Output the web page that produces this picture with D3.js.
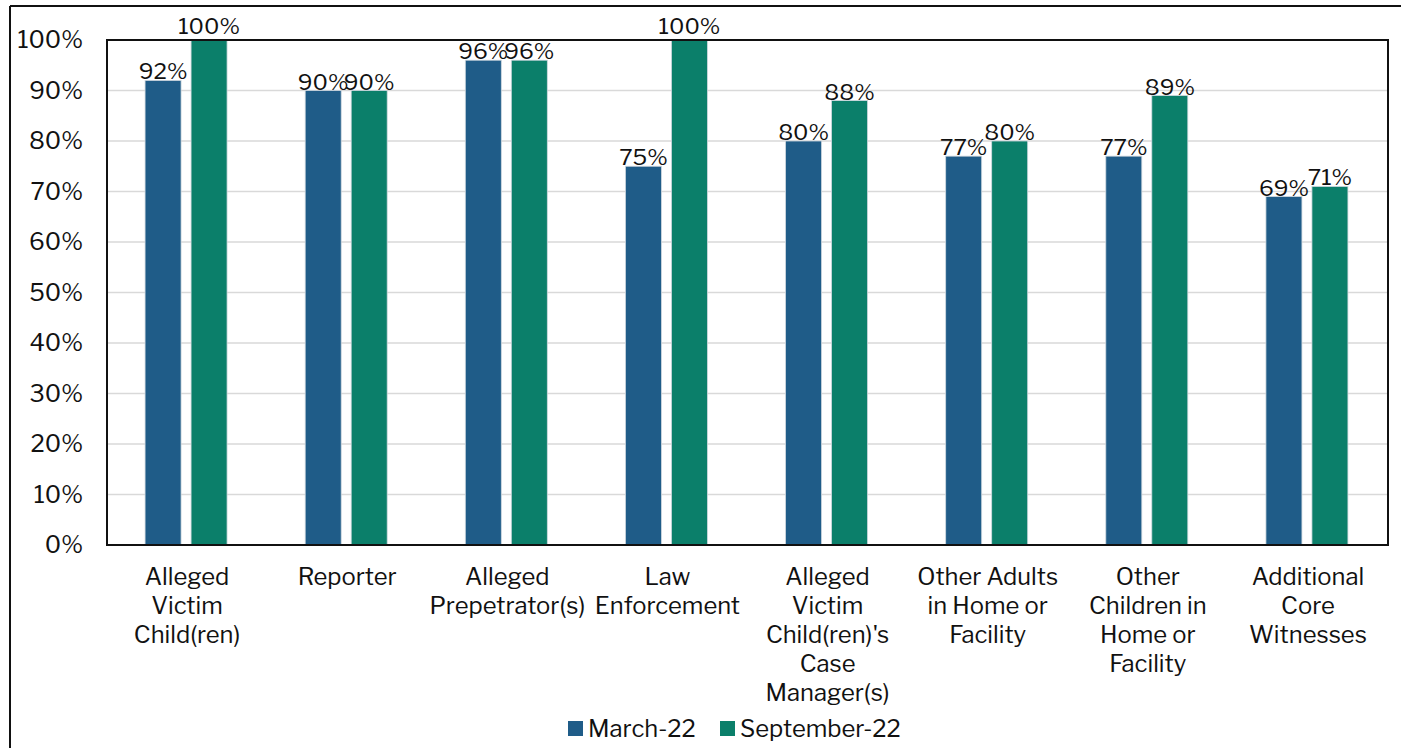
<!DOCTYPE html>
<html><head><meta charset="utf-8">
<script src="https://cdn.jsdelivr.net/npm/d3@7"></script>
<style>body{margin:0;background:#fff}svg{display:block}</style>
</head><body>
<script>
const categories = [
  ["Alleged","Victim","Child(ren)"],
  ["Reporter"],
  ["Alleged","Prepetrator(s)"],
  ["Law","Enforcement"],
  ["Alleged","Victim","Child(ren)'s","Case","Manager(s)"],
  ["Other Adults","in Home or","Facility"],
  ["Other","Children in","Home or","Facility"],
  ["Additional","Core","Witnesses"]
];
const seriesNames = ["March-22", "September-22"];
const march22 = [92, 90, 96, 75, 80, 77, 77, 69];
const september22 = [100, 90, 96, 100, 88, 80, 89, 71];
const yTicks = [0,10,20,30,40,50,60,70,80,90,100];
const colors = ["#1F5C88", "#0B7F6A"];

const W = 1401, H = 748;
const font = "'Libre Franklin','Open Sans',Roboto,sans-serif";
const FS = 23.8;
const svg = d3.select("body").append("svg").attr("width", W).attr("height", H);

// outer frame
svg.append("line").attr("x1",10).attr("x2",W).attr("y1",6).attr("y2",6).attr("stroke","#111").attr("stroke-width",2);
svg.append("line").attr("x1",10).attr("x2",10).attr("y1",6).attr("y2",H).attr("stroke","#111").attr("stroke-width",2);

const L = 107, R = 1388, T = 40, B = 545;
const x0 = d3.scaleBand().domain(d3.range(categories.length)).range([L, R]).paddingInner(0).paddingOuter(0);
const y = d3.scaleLinear().domain([0, 100]).range([B, T]);

// gridlines
svg.append("g").selectAll("line").data(yTicks.filter(t => t > 0)).join("line")
  .attr("x1", L).attr("x2", R).attr("y1", d => y(d)).attr("y2", d => y(d))
  .attr("stroke", "#d9d9d9").attr("stroke-width", 1.5);

// y axis labels
const yAxis = d3.axisLeft(y).tickValues(yTicks).tickFormat(d => d + "%").tickSize(0).tickPadding(24);
const ga = svg.append("g").attr("transform", `translate(${L},0)`).call(yAxis);
ga.select(".domain").remove();
ga.selectAll("text").attr("font-family", font).attr("font-size", FS).attr("fill", "#111");

const barW = 36, gap = 10;
const series = [march22, series2 = september22];
series.forEach((vals, si) => {
  const off = si === 0 ? -(gap/2 + barW) - 1 : gap/2 - 1;
  const g = svg.append("g");
  g.selectAll("rect").data(vals).join("rect")
    .attr("x", (d, i) => x0(i) + x0.bandwidth()/2 + off)
    .attr("width", barW)
    .attr("y", d => y(d))
    .attr("height", d => B - y(d))
    .attr("fill", colors[si])
    .attr("stroke", "#cfd8df").attr("stroke-width", 0.8);
  g.selectAll("text").data(vals).join("text")
    .attr("x", (d, i) => x0(i) + x0.bandwidth()/2 + off + barW/2)
    .attr("y", d => y(d) <= T + 2 ? T - 6 : y(d) - 1)
    .attr("text-anchor", "middle")
    .attr("font-family", font).attr("font-size", 22.4).attr("fill", "#111")
    .text(d => d + "%");
});

// plot frame
svg.append("rect").attr("x", L).attr("y", T).attr("width", R - L).attr("height", B - T)
  .attr("fill", "none").attr("stroke", "#111").attr("stroke-width", 2);

// category labels
const cg = svg.append("g");
categories.forEach((lines, i) => {
  const t = cg.append("text").attr("text-anchor", "middle")
    .attr("font-family", font).attr("font-size", FS).attr("fill", "#111");
  lines.forEach((ln, k) => {
    t.append("tspan").attr("x", x0(i) + x0.bandwidth()/2).attr("y", 585 + k * 29).text(ln);
  });
});

// legend
const leg = svg.append("g");
const legItems = [{x: 568, name: seriesNames[0], c: colors[0]}, {x: 720, name: seriesNames[1], c: colors[1]}];
legItems.forEach(it => {
  leg.append("rect").attr("x", it.x).attr("y", 721).attr("width", 15).attr("height", 15).attr("fill", it.c);
  leg.append("text").attr("x", it.x + 20).attr("y", 737)
    .attr("font-family", font).attr("font-size", FS).attr("fill", "#111").text(it.name);
});
</script>
</body></html>
